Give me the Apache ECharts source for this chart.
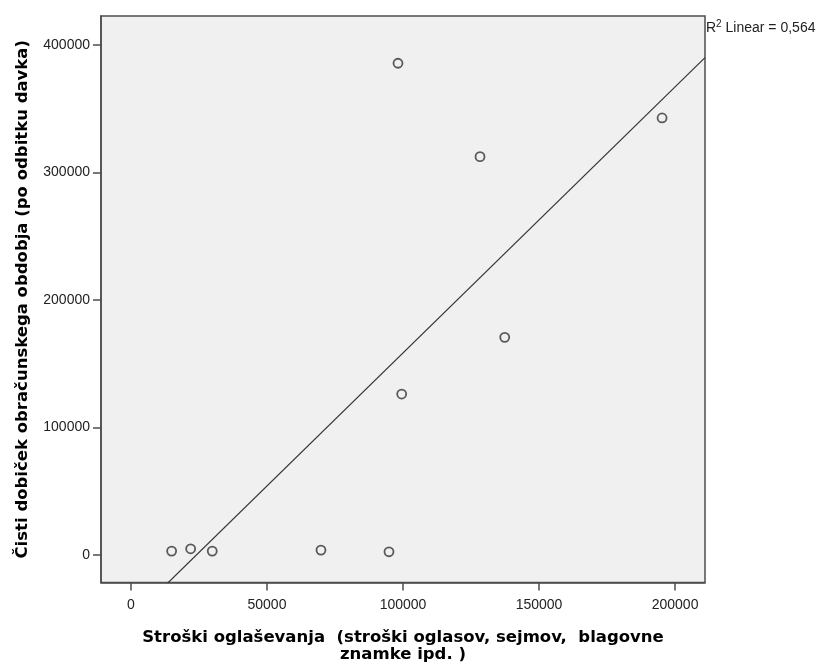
<!DOCTYPE html>
<html>
<head>
<meta charset="utf-8">
<script src="https://cdn.jsdelivr.net/npm/echarts@6/dist/echarts.min.js"></script>
<style>
    html, body { margin: 0; padding: 0; background: #fff; }
    #chart { width: 818px; height: 662px; }
</style>
</head>
<body>
<div id="chart"></div>
<script>
// stroški oglaševanja (x) in čisti dobiček (y), prebrano s slike
const advertisingCost = [14960, 21950, 29890, 69850, 94850, 98160, 99520, 128310, 137390, 195220]
const netProfit = [3137, 4940, 3137, 3920, 2590, 385650, 126270, 312390, 170750, 342750]
const xTicks = [0, 50000, 100000, 150000, 200000]
const yTicks = [0, 100000, 200000, 300000, 400000]
const xRange = [-11000, 211000]
const yRange = [-21500, 422700]
const r2Label = '0,564'

// linearna regresija (kot v SPSS "Fit Line at Total")
function linearFit (xs, ys) {
    let n = xs.length
    let mx = xs.reduce((a, b) => a + b, 0) / n
    let my = ys.reduce((a, b) => a + b, 0) / n
    let sxy = 0, sxx = 0
    for (let i = 0; i < n; i++) {
        sxy += (xs[i] - mx) * (ys[i] - my)
        sxx += (xs[i] - mx) * (xs[i] - mx)
    }
    let slope = sxy / sxx
    return { slope: slope, intercept: my - slope * mx }
}

const fit = linearFit(advertisingCost, netProfit)
const points = advertisingCost.map((x, i) => [x, netProfit[i]])
const fitLine = xRange.map(x => [x, fit.intercept + fit.slope * x])

const frameColor = '#4d4d4d'
const labelFont = { fontFamily: 'Liberation Sans', fontSize: 14, color: '#222' }
const titleFont = { fontFamily: 'DejaVu Sans', fontWeight: 'bold', fontSize: 16.5, color: '#000' }

let myChart = echarts.init(document.getElementById('chart'))
myChart.setOption({
    animation: false,
    grid: {
        left: 101,
        top: 16,
        right: 113,
        bottom: 79.5,
        outerBoundsMode: 'none', // v6: ne krči mreže zaradi napisov
        show: true,
        backgroundColor: '#f0f0f0',
        borderColor: frameColor,
        borderWidth: 1.5
    },
    xAxis: {
        type: 'value',
        min: xRange[0],
        max: xRange[1],
        name: 'Stroški oglaševanja  (stroški oglasov, sejmov,  blagovne\nznamke ipd. )',
        nameLocation: 'middle',
        nameGap: 47,
        nameTextStyle: Object.assign({ lineHeight: 17 }, titleFont),
        axisLine: { onZero: false, lineStyle: { color: frameColor, width: 1.5 } },
        axisTick: { show: true, length: 8, customValues: xTicks, lineStyle: { color: frameColor, width: 1.5 } },
        axisLabel: Object.assign({ margin: 16, customValues: xTicks, formatter: v => String(v) }, labelFont),
        splitLine: { show: false }
    },
    yAxis: {
        type: 'value',
        min: yRange[0],
        max: yRange[1],
        name: 'Čisti dobiček obračunskega obdobja (po odbitku davka)',
        nameLocation: 'middle',
        nameGap: 70,
        nameTextStyle: titleFont,
        axisLine: { onZero: false, lineStyle: { color: frameColor, width: 1.5 } },
        axisTick: { show: true, length: 8, customValues: yTicks, lineStyle: { color: frameColor, width: 1.5 } },
        axisLabel: Object.assign({ margin: 11, customValues: yTicks, formatter: v => String(v) }, labelFont),
        splitLine: { show: false }
    },
    graphic: [{
        type: 'text',
        left: 706,
        top: 19,
        style: {
            text: '{b|R}{s|2}{b| Linear = ' + r2Label + '}',
            rich: {
                b: { fontFamily: 'Liberation Sans', fontSize: 14, fill: '#222', verticalAlign: 'bottom' },
                s: { fontFamily: 'Liberation Sans', fontSize: 10, fill: '#222', verticalAlign: 'top', padding: [0, 0, 6, 0] }
            }
        }
    }],
    series: [
        {
            type: 'line',
            data: fitLine,
            symbol: 'none',
            clip: true,
            silent: true,
            lineStyle: { color: '#333', width: 1.2 }
        },
        {
            type: 'scatter',
            data: points,
            symbol: 'circle',
            symbolSize: 9,
            itemStyle: {
                color: 'rgba(0,0,0,0)',
                borderColor: '#333',
                borderWidth: 1.8
            }
        }
    ]
})
window.addEventListener('resize', function () {
    myChart.resize()
})
</script>
</body>
</html>
